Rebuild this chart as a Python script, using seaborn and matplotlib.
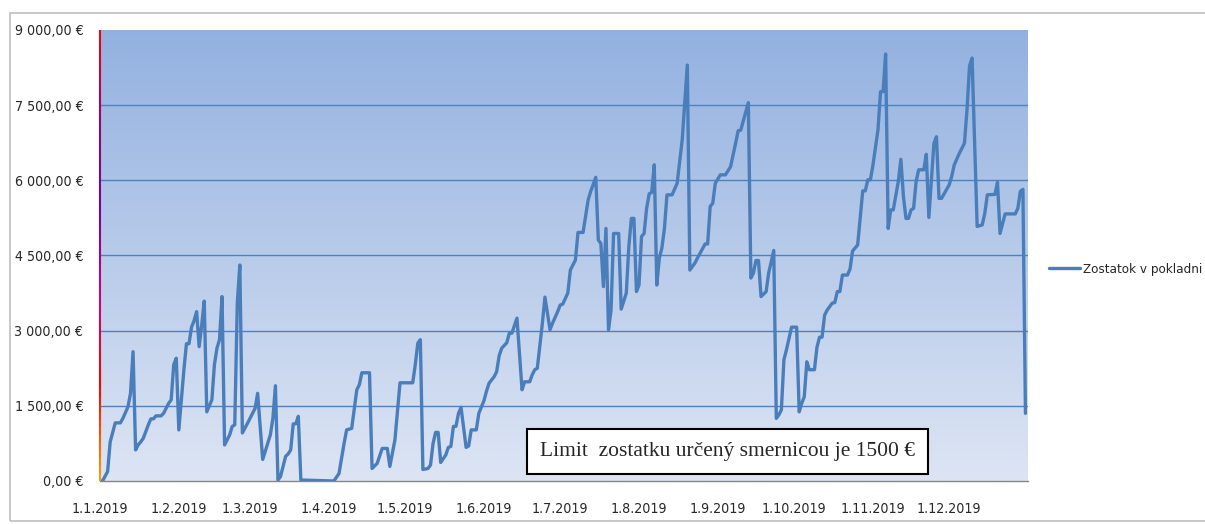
import numpy as np
import pandas as pd
import matplotlib
matplotlib.use("Agg")
import matplotlib.pyplot as plt
from matplotlib.collections import LineCollection
from matplotlib.colors import LinearSegmentedColormap
import seaborn as sns

# day offsets from 1.1.2019 and balance in EUR
days = [0, 1, 3, 4, 6, 8, 9, 11, 12, 13, 14, 15, 16, 17, 19, 20, 21, 22, 24, 25,
        27, 28, 29, 30, 31, 33, 34, 35, 36, 37, 38, 39, 40, 41, 42, 44, 45, 46, 47, 48,
        49, 51, 52, 53, 54, 55, 56, 58, 60, 61, 62, 64, 67, 68, 69, 70, 71, 73, 74, 75,
        76, 77, 78, 79, 92, 94, 96, 97, 99, 101, 102, 103, 106, 107, 109, 111, 113, 114, 116, 118, 123,
        124, 125, 126, 127, 129, 130, 131, 132, 133, 134, 136, 137, 138, 139, 140, 141, 142, 144, 145, 146,
        148, 149, 151, 152, 153, 155, 156, 157, 158, 160, 161, 162, 164, 166, 167, 169, 170, 171, 172, 174,
        175, 177, 178, 180, 181, 182, 184, 185, 186, 187, 188, 190, 192, 193, 195, 196, 197, 198, 199, 200,
        201, 202, 204, 205, 207, 208, 209, 210, 211, 212, 213, 214, 215, 216, 217, 218, 219, 220, 221, 222,
        223, 225, 227, 229, 231, 232, 234, 235, 238, 239, 240, 241, 242, 244, 246, 248, 250, 251, 252, 255,
        256, 257, 258, 259, 260, 262, 263, 265, 266, 267, 268, 269, 270, 272, 274, 275, 276, 277, 278, 279,
        281, 282, 283, 284, 285, 286, 288, 289, 290, 291, 292, 294, 295, 296, 298, 300, 301, 302, 303, 304,
        306, 307, 308, 309, 310, 311, 312, 314, 315, 316, 317, 318, 319, 320, 321, 322, 324, 325, 326, 328,
        329, 330, 331, 333, 334, 335, 336, 338, 340, 341, 342, 343, 345, 347, 348, 349, 352, 353, 354, 356,
        360, 361, 362, 363, 364]
balance = [0, 0, 190, 780, 1160, 1160, 1250, 1480, 1750, 2580, 620, 720, 780, 850, 1120, 1240, 1240, 1300, 1300, 1350,
           1550, 1620, 2320, 2450, 1020, 2220, 2740, 2740, 3070, 3200, 3380, 2680, 3110, 3590, 1380, 1620, 2320, 2650, 2820, 3680,
           720, 920, 1090, 1120, 3550, 4310, 960, 1150, 1350, 1450, 1750, 430, 920, 1250, 1900, 20, 90, 490, 540, 620,
           1140, 1140, 1290, 20, 0, 150, 750, 1020, 1050, 1820, 1920, 2160, 2160, 250, 350, 650, 650, 290, 820, 1960, 1960,
           2320, 2750, 2820, 230, 250, 320, 750, 970, 970, 370, 520, 670, 690, 1090, 1090, 1350, 1470, 670, 700, 1020,
           1020, 1350, 1600, 1790, 1950, 2080, 2180, 2500, 2650, 2760, 2950, 2950, 3250, 1820, 1980, 1980, 2120, 2220, 2250, 3150,
           3670, 3020, 3150, 3380, 3510, 3530, 3750, 4210, 4310, 4410, 4960, 4960, 5610, 5780, 6060, 4810, 4740, 3880, 5040, 3020,
           3410, 4940, 4940, 3430, 3750, 4680, 5240, 5240, 3780, 3910, 4880, 4940, 5440, 5730, 5760, 6310, 3910, 4450, 4650, 5040,
           5710, 5710, 5940, 6810, 8300, 4210, 4350, 4450, 4730, 4730, 5480, 5540, 5940, 6110, 6110, 6270, 6740, 6990, 7000, 7550,
           4050, 4150, 4400, 4400, 3680, 3780, 4150, 4600, 1250, 1320, 1420, 2420, 2620, 3070, 3070, 1380, 1550, 1680, 2380, 2220,
           2220, 2670, 2870, 2870, 3310, 3410, 3550, 3560, 3780, 3780, 4110, 4110, 4230, 4590, 4710, 5790, 5790, 6010, 6010, 6300,
           7010, 7770, 7770, 8520, 5040, 5410, 5410, 5980, 6420, 5680, 5240, 5240, 5410, 5440, 5980, 6210, 6210, 6520, 5260, 6740,
           6870, 5640, 5640, 5820, 5910, 6080, 6310, 6540, 6740, 7400, 8280, 8440, 5080, 5110, 5340, 5710, 5720, 5960, 4940, 5330,
           5330, 5440, 5780, 5820, 1350]

series_name = "Zostatok v pokladni"
y_ticks = [0, 1500, 3000, 4500, 6000, 7500, 9000]
note = "Limit  zostatku určený smernicou je 1500 €"

start = pd.Timestamp("2019-01-01")
df = pd.DataFrame({"date": start + pd.to_timedelta(days, unit="D"), "balance": balance})
month_starts = pd.date_range("2019-01-01", "2019-12-01", freq="MS")

sns.set_style("white")
plt.rcParams["font.family"] = ["DejaVu Sans"]
plt.rcParams["font.stretch"] = "condensed"

fig = plt.figure(figsize=(12.05, 5.24), dpi=100)
ax = fig.add_axes([100 / 1205, 43 / 524, 928 / 1205, 451 / 524])

# outer chart border
fig.patches.append(plt.Rectangle((10 / 1205, 3 / 524), 1200 / 1205, 508 / 524,
                                 transform=fig.transFigure, fill=False,
                                 edgecolor="#bfbfbf", linewidth=1.2))

# gradient plot area
grad = LinearSegmentedColormap.from_list("bg", ["#dde5f4", "#93b1e0"])
ax.imshow(np.linspace(0, 1, 256).reshape(-1, 1), cmap=grad, origin="lower",
          extent=[0, 1, 0, 1], transform=ax.transAxes, aspect="auto", zorder=0)

for v in y_ticks[1:-1]:
    ax.axhline(v, color="#4f81bd", linewidth=1.0, zorder=1)

sns.lineplot(data=df, x="date", y="balance", ax=ax, color="#4a7ebb",
             linewidth=2.4, label=series_name, zorder=3)

ax.set_ylim(0, 9000)
ax.set_xlim(start, start + pd.Timedelta(days=365))
ax.set_yticks(y_ticks)
ax.yaxis.set_major_formatter(plt.FuncFormatter(
    lambda v, p: f"{int(v):,}".replace(",", " ") + ",00 €"))

ax.set_xticks(month_starts)
ax.set_xticklabels([f"{d.day}.{d.month}.{d.year}" for d in month_starts])

ax.set_xlabel("")
ax.set_ylabel("")
for s in ["top", "right", "left"]:
    ax.spines[s].set_visible(False)
ax.spines["bottom"].set_color("#868686")
ax.spines["bottom"].set_linewidth(1.0)
ax.tick_params(axis="x", length=7, width=1, color="#868686", labelsize=10.2, pad=8)
ax.tick_params(axis="y", length=3, width=1, color="#c0506e", labelsize=10.2, pad=9)

# multicoloured left axis line
yy = np.linspace(0, 1, 60)
pts = np.column_stack([np.zeros_like(yy), yy]).reshape(-1, 1, 2)
segs = np.concatenate([pts[:-1], pts[1:]], axis=1)
axis_cmap = LinearSegmentedColormap.from_list(
    "ax", ["#ff9900", "#ff0000", "#d0007a", "#7a00a0", "#a00070", "#ff0000"])
lc = LineCollection(segs, colors=axis_cmap(yy[:-1]), linewidths=1.5,
                    transform=ax.transAxes, zorder=4, clip_on=False)
ax.add_collection(lc)

ax.text(0.676, 0.066, note, transform=ax.transAxes, ha="center", va="center",
        fontsize=15.5, family=["Liberation Serif", "DejaVu Serif"],
        fontstretch="normal", zorder=5,
        bbox=dict(boxstyle="square,pad=0.6", facecolor="white",
                  edgecolor="black", linewidth=1.5))

ax.legend(loc="center left", bbox_to_anchor=(1.01, 0.47), frameon=False,
          fontsize=9.6, handlelength=2.3, handletextpad=0.2)

fig.savefig("out.png", dpi=100)
